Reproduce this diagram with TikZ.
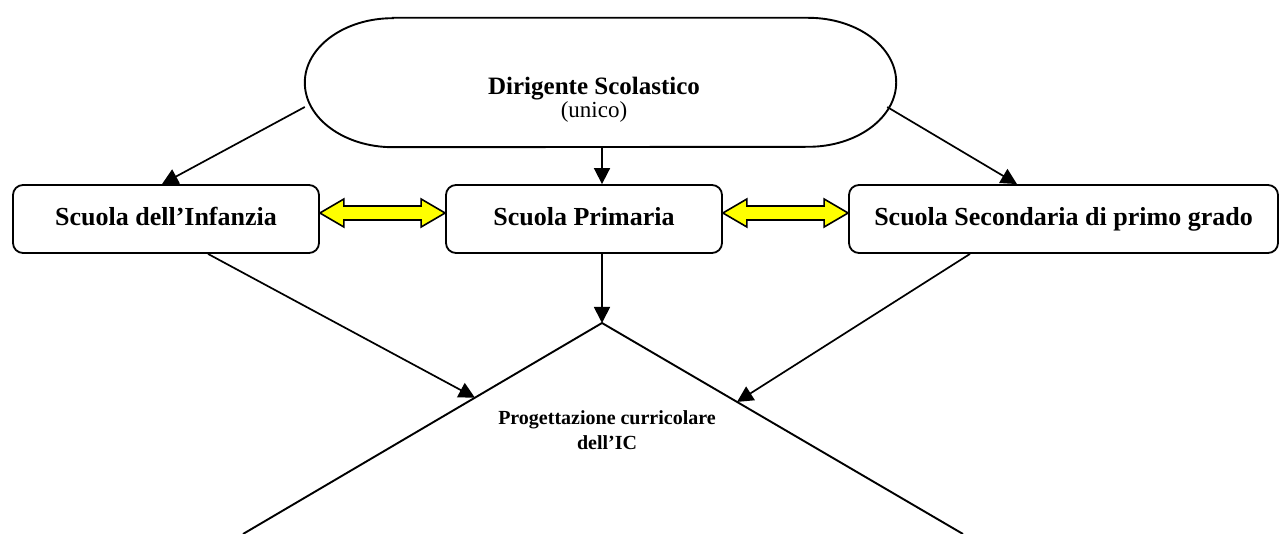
\documentclass[tikz,border=0pt]{standalone}
\usepackage{fontspec}
\setmainfont{Liberation Serif}
\usetikzlibrary{arrows.meta,calc}
\definecolor{ink}{HTML}{000000}
\definecolor{hl}{HTML}{FFFF00}
\tikzset{
  frame/.style={minimum width=591pt, minimum height=129pt, inner sep=0pt},
  box/.style={draw=ink, rounded corners=10pt, line width=1.8pt, minimum height=68pt, inner sep=0pt,
    text height=19pt, text depth=6.5pt, font=\bfseries\fontsize{26}{30}\selectfont},
  arr/.style={draw=ink, line width=1.7pt, -{Triangle[length=16pt,width=16pt]}},
  ln/.style={draw=ink, line width=1.9pt},
  dbl/.style={draw=ink, fill=hl, line width=1.6pt, line join=miter},
  big/.style={font=\fontsize{25}{23}\selectfont, align=center},
  small/.style={font=\bfseries\fontsize{20}{25}\selectfont, align=center}
}
\begin{document}
\begin{tikzpicture}[x=1pt,y=1pt]
\useasboundingbox (0,0) rectangle (1284,-534);
% top
\node[frame] (dsb) at (600.5,-82.5) {};
\draw[ln] ([xshift=88]dsb.north west) -- ([xshift=-88]dsb.north east)
  arc[start angle=90,end angle=-90,x radius=88,y radius=64.5]
  -- ([xshift=88]dsb.south west)
  arc[start angle=270,end angle=90,x radius=88,y radius=64.5] -- cycle;
\node[big] (ds) at (594,-100) {\textbf{Dirigente Scolastico}\\{\fontsize{23}{23}\selectfont(unico)}};
% schools
\node[box, minimum width=306pt] (inf) at (166,-219) {Scuola dell'Infanzia};
\node[box, minimum width=276pt] (pri) at (584,-219) {Scuola Primaria};
\node[box, minimum width=429pt] (sec) at (1063.5,-219) {Scuola Secondaria di primo grado};
% links
\draw[arr] ([yshift=-24.5]dsb.west) -- ([xshift=-4]inf.north);
\draw[arr] ([xshift=1.5]dsb.south) -- ([xshift=18]pri.north);
\draw[arr] ([xshift=-9,yshift=-24.5]dsb.east) -- ([xshift=-46.5]sec.north);
% yellow
\draw[dbl] ([yshift=6]inf.east) -- ++(24,14) -- ++(0,-7) -- ([xshift=-24,yshift=13]pri.west)
  -- ++(0,7) -- ([yshift=6]pri.west) -- ++(-24,-14) -- ++(0,7)
  -- ([xshift=24,yshift=-1]inf.east) -- ++(0,-7) -- cycle;
\draw[dbl] ([yshift=6]pri.east) -- ++(24,14) -- ++(0,-7) -- ([xshift=-24,yshift=13]sec.west)
  -- ++(0,7) -- ([yshift=6]sec.west) -- ++(-24,-14) -- ++(0,7)
  -- ([xshift=24,yshift=-1]pri.east) -- ++(0,-7) -- cycle;
% triangle
\coordinate (apex) at (602,-323);
\coordinate (lft) at (243,-534);
\coordinate (rgt) at (963,-534);
\draw[ln, line join=miter] (lft) -- (apex) -- (rgt);
\draw[arr] ([xshift=18]pri.south) -- (apex);
\draw[arr] ([xshift=42]inf.south) -- ($(apex)!0.354!(lft)$);
\draw[arr] ([xshift=-93.5]sec.south) -- ($(apex)!0.374!(rgt)$);
\node[small] (pc) at (607,-430) {Progettazione curricolare\\dell'IC};
\end{tikzpicture}
\end{document}
